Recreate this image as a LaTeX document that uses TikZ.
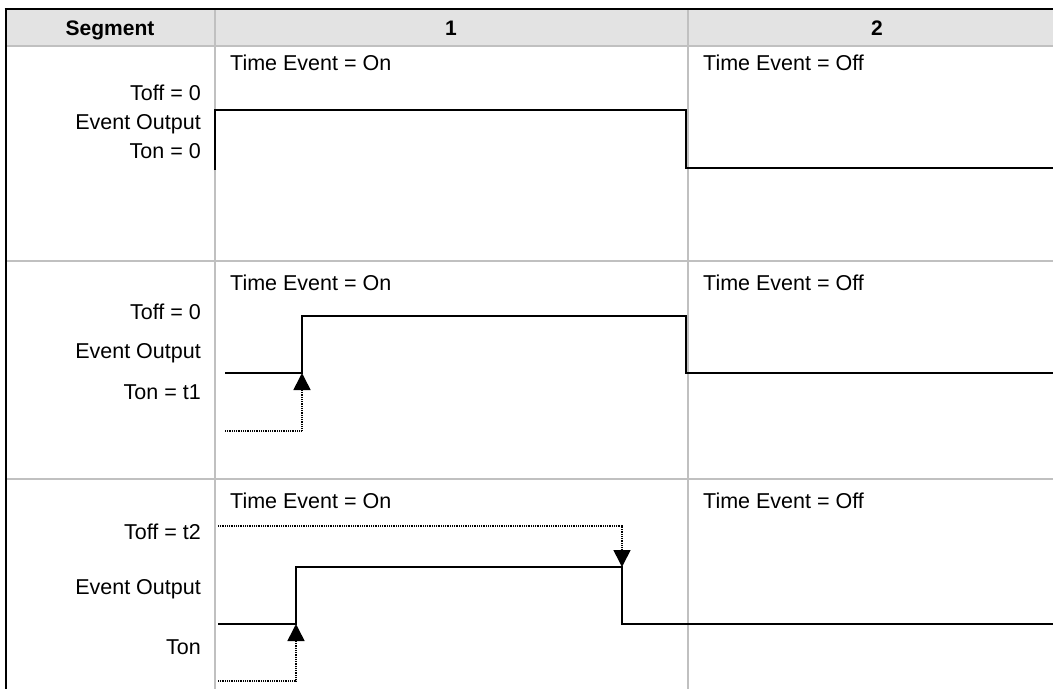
\documentclass[tikz,border=0pt]{standalone}
\usepackage{fontspec}
\setmainfont{Liberation Sans}
\usetikzlibrary{arrows.meta}
\definecolor{gridgray}{HTML}{C0C0C0}
\definecolor{headgray}{HTML}{E3E3E3}
\begin{document}
\begin{tikzpicture}[x=1pt,y=-1pt,
  gridline/.style={draw=gridgray,line width=2.5pt},
  border/.style={draw=black,line width=2.8pt},
  sig/.style={draw=black,line width=2pt},
  dotline/.style={draw=black,line width=1.6pt,dash pattern=on 1pt off 0.8pt},
  trig/.style={dotline,-{Triangle[length=17pt,width=17pt,color=black]}},
  txt/.style={font=\fontsize{21.5}{25}\selectfont,inner sep=0pt},
  head/.style={font=\bfseries\fontsize{21}{25}\selectfont,inner sep=0pt},
  rlbl/.style={txt,anchor=mid east},
  llbl/.style={txt,anchor=mid west}]
\useasboundingbox (0,0) rectangle (1053,689);
% header
\fill[headgray] (6,9) rectangle (1053,46);
% grid
\draw[gridline] (6,46) -- (1053,46);
\draw[gridline] (6,261) -- (1053,261);
\draw[gridline] (6,479) -- (1053,479);
\draw[gridline] (215,9) -- (215,689);
\draw[gridline] (688,9) -- (688,689);
% header texts
\node[head] (hseg) at (110,30) {Segment};
\node[head] (h1) at (451,28) {1};
\node[head] (h2) at (877,28) {2};
% row 1
\node[llbl] (r1on) at (230,68) {Time Event = On};
\node[llbl] (r1off) at (703,68) {Time Event = Off};
\node[rlbl] (r1toff) at (201,98) {Toff = 0};
\node[rlbl] (r1eo) at (201,127) {Event Output};
\node[rlbl] (r1ton) at (201,156) {Ton = 0};
\coordinate (a1) at (215,170);
\coordinate (a2) at (215,110);
\coordinate (a3) at (686,110);
\coordinate (a4) at (686,168);
\coordinate (a5) at (1053,168);
\draw[sig] (a1) -- (a2) -- (a3) -- (a4) -- (a5);
% row 2
\node[llbl] (r2on) at (230,288) {Time Event = On};
\node[llbl] (r2off) at (703,288) {Time Event = Off};
\node[rlbl] (r2toff) at (201,317) {Toff = 0};
\node[rlbl] (r2eo) at (201,356) {Event Output};
\node[rlbl] (r2ton) at (201,397) {Ton = t1};
\coordinate (b1) at (225,373);
\coordinate (b2) at (302,373);
\coordinate (b3) at (302,316);
\coordinate (b4) at (686,316);
\coordinate (b5) at (686,373);
\coordinate (b6) at (1053,373);
\draw[sig] (b1) -- (b2) -- (b3) -- (b4) -- (b5) -- (b6);
\coordinate (bd1) at (225,431);
\coordinate (bd2) at (302,431);
\draw[trig] (bd1) -- (bd2) -- (b2);
% row 3
\node[llbl] (r3on) at (230,506) {Time Event = On};
\node[llbl] (r3off) at (703,506) {Time Event = Off};
\node[rlbl] (r3toff) at (201,537) {Toff = t2};
\node[rlbl] (r3eo) at (201,592) {Event Output};
\node[rlbl] (r3ton) at (201,652) {Ton};
\coordinate (c1) at (218,624);
\coordinate (c2) at (296,624);
\coordinate (c3) at (296,567);
\coordinate (c4) at (622,567);
\coordinate (c5) at (622,624);
\coordinate (c6) at (1053,624);
\draw[sig] (c1) -- (c2) -- (c3) -- (c4) -- (c5) -- (c6);
\coordinate (cd1) at (218,526);
\coordinate (cd2) at (622,526);
\draw[trig] (cd1) -- (cd2) -- (c4);
\coordinate (ce1) at (218,681);
\coordinate (ce2) at (296,681);
\draw[trig] (ce1) -- (ce2) -- (c2);
% borders
\draw[border] (4.6,9) -- (1053,9);
\draw[border] (6,9) -- (6,689);
\end{tikzpicture}
\end{document}
